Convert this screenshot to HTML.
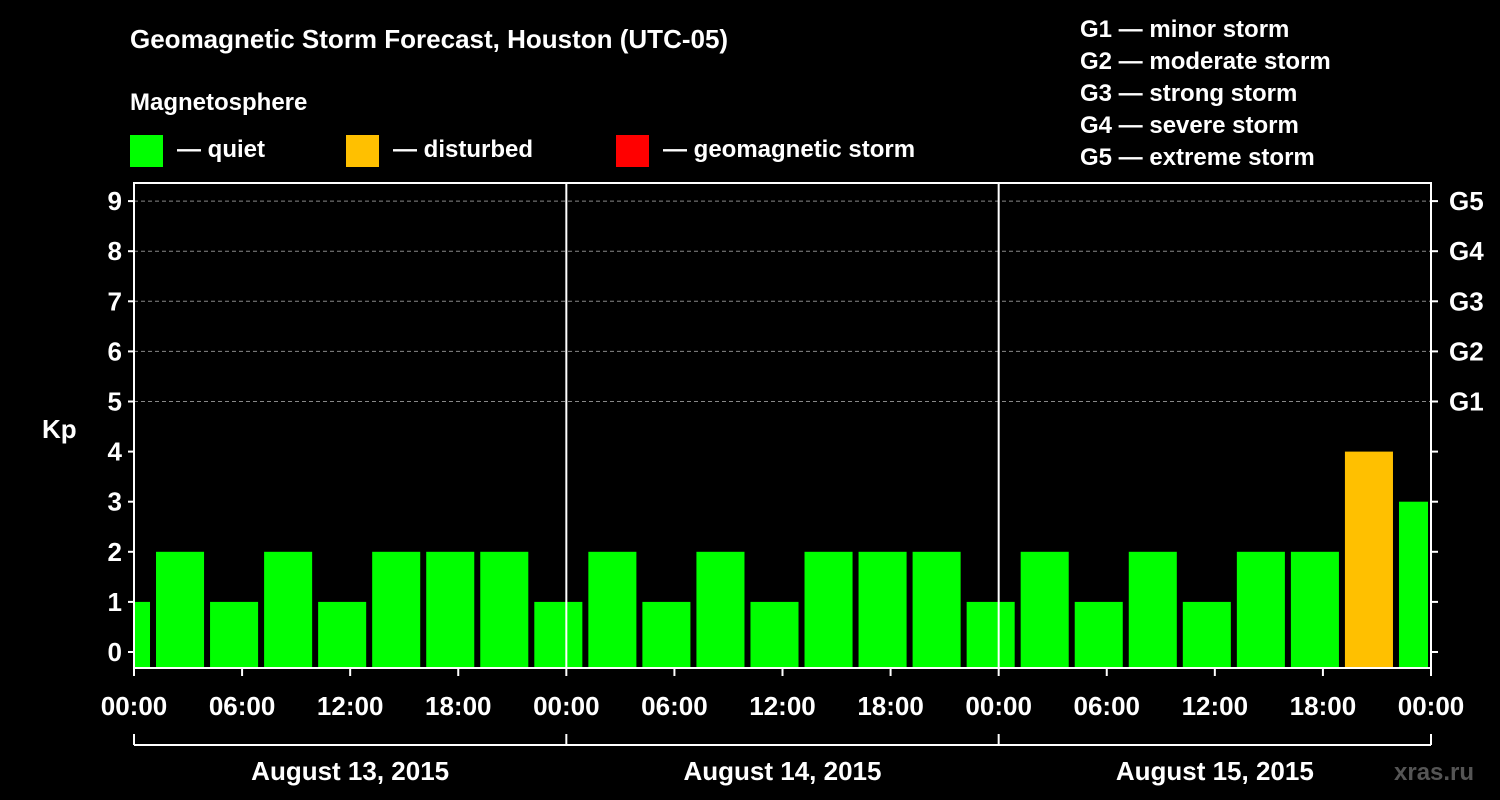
<!DOCTYPE html>
<html><head><meta charset="utf-8"><style>
html,body{margin:0;padding:0;background:#000;width:1500px;height:800px;overflow:hidden}
svg text{font-family:"Liberation Sans",Arial,sans-serif;font-weight:bold;fill:#fff}
</style></head><body>
<svg id="c" width="1500" height="800" xmlns="http://www.w3.org/2000/svg">
<text x="130" y="48" font-size="26">Geomagnetic Storm Forecast, Houston (UTC-05)</text>
<text x="130" y="110" font-size="24">Magnetosphere</text>
<g>
<rect x="130" y="135" width="33" height="32" fill="#00ff00"/>
<text x="177" y="157" font-size="24">— quiet</text>
<rect x="346" y="135" width="33" height="32" fill="#ffc000"/>
<text x="393" y="157" font-size="24">— disturbed</text>
<rect x="616" y="135" width="33" height="32" fill="#ff0000"/>
<text x="663" y="157" font-size="24">— geomagnetic storm</text>
</g>
<g font-size="24">
<text x="1080" y="37">G1 — minor storm</text>
<text x="1080" y="69">G2 — moderate storm</text>
<text x="1080" y="101">G3 — strong storm</text>
<text x="1080" y="133">G4 — severe storm</text>
<text x="1080" y="165">G5 — extreme storm</text>
</g>
<text x="42" y="438" font-size="26">Kp</text>
<text x="1394" y="780" font-size="24" fill="#555" style="fill:#555">xras.ru</text>
<g id="plot"></g>
</svg>
<script>
const kpValues=[1,2,1,2,1,2,2,2,1,2,1,2,1,2,2,2,1,2,1,2,1,2,2,4,3];
const slotStartHours=[-2,1,4,7,10,13,16,19,22,25,28,31,34,37,40,43,46,49,52,55,58,61,64,67,70];
const yTicks=[0,1,2,3,4,5,6,7,8,9];
const gLabels=["G1","G2","G3","G4","G5"];
const gLevels=[5,6,7,8,9];
const xTickLabels=["00:00","06:00","12:00","18:00","00:00","06:00","12:00","18:00","00:00","06:00","12:00","18:00","00:00"];
const dayLabels=["August 13, 2015","August 14, 2015","August 15, 2015"];

const X0=134,X1=1431,Y0=183,Y1=668;
const xs=h=>X0+(X1-X0)*h/72;
const ys=v=>652-v*50.1;
const NS="http://www.w3.org/2000/svg";
const g=document.getElementById('plot');
function mk(t,a){const e=document.createElementNS(NS,t);for(const k in a)e.setAttribute(k,a[k]);g.appendChild(e);return e;}

// grid
gLevels.forEach(v=>{const l=mk('line',{x1:X0,x2:X1,y1:ys(v),y2:ys(v),stroke:'#888','stroke-dasharray':'4,3','stroke-width':1});

});
// bars
kpValues.forEach((v,i)=>{
 let a=Math.max(xs(slotStartHours[i])+4,X0+1), b=Math.min(xs(slotStartHours[i]+3)-2,X1-3);
 const r=mk('rect',{x:a,y:ys(v),width:b-a,height:Y1-ys(v),fill:v>=5?'#ff0000':(v>=4?'#ffc000':'#00ff00')});
 
 
});
// day separators
[24,48].forEach(h=>{const l=mk('line',{x1:xs(h),x2:xs(h),y1:Y0,y2:Y1,stroke:'#fff','stroke-width':2});

});
// frame
const fr=mk('rect',{x:X0,y:Y0,width:X1-X0,height:Y1-Y0,fill:'none',stroke:'#fff','stroke-width':2});


// y ticks
yTicks.forEach(v=>{
 mk('line',{x1:X0-6,x2:X0,y1:ys(v),y2:ys(v),stroke:'#fff','stroke-width':2});
 mk('line',{x1:X1,x2:X1+7,y1:ys(v),y2:ys(v),stroke:'#fff','stroke-width':2});
 const t=mk('text',{x:X0-12,y:ys(v)+9,'text-anchor':'end','font-size':26});t.textContent=v;
 
 
});
gLabels.forEach((s,i)=>{const t=mk('text',{x:X1+18,y:ys(gLevels[i])+9,'font-size':26});t.textContent=s;
 
 });
// x ticks
xTickLabels.forEach((s,i)=>{const x=xs(i*6);
 mk('line',{x1:x,x2:x,y1:Y1,y2:Y1+8,stroke:'#fff','stroke-width':2});
 const t=mk('text',{x:x,y:715,'text-anchor':'middle','font-size':26});t.textContent=s;
 
 });
// day bracket
mk('line',{x1:X0,x2:X1,y1:745,y2:745,stroke:'#fff','stroke-width':2});
[0,24,48,72].forEach(h=>mk('line',{x1:xs(h),x2:xs(h),y1:734,y2:745,stroke:'#fff','stroke-width':2}));
dayLabels.forEach((s,i)=>{const t=mk('text',{x:xs(i*24+12),y:780,'text-anchor':'middle','font-size':26});t.textContent=s;
 
 });
</script>
</body></html>
